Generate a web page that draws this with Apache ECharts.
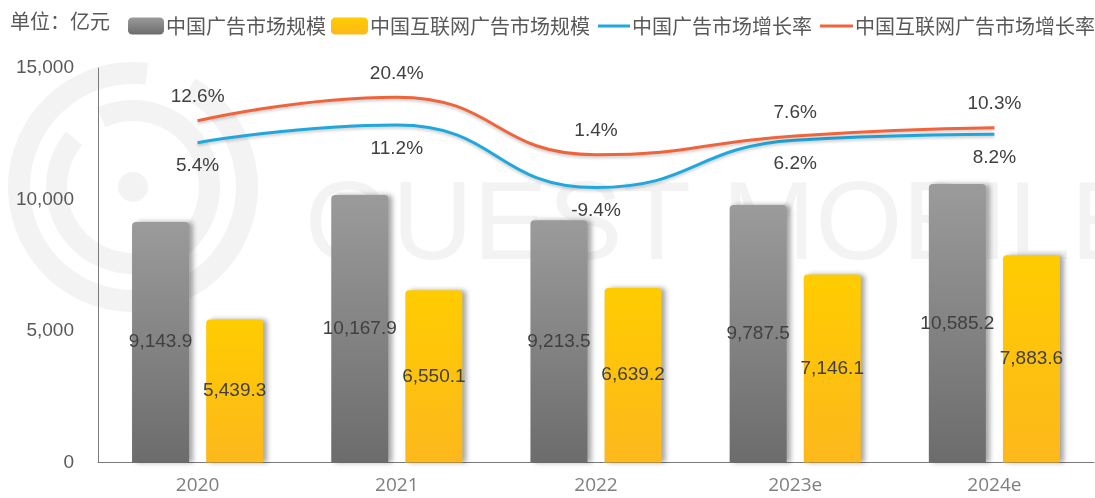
<!DOCTYPE html>
<html>
<head>
<meta charset="utf-8">
<script src="https://cdn.jsdelivr.net/npm/echarts@6/dist/echarts.min.js"></script>
<style>
html,body{margin:0;padding:0;background:#fff;}
#c{width:1095px;height:498px;}
</style>
</head>
<body>
<div id="c"></div>
<script>
const categories = ['2020', '2021', '2022', '2023e', '2024e'];
const adMarket = [9143.9, 10167.9, 9213.5, 9787.5, 10585.2];
const netAdMarket = [5439.3, 6550.1, 6639.2, 7146.1, 7883.6];
const adGrowth = [5.4, 11.2, -9.4, 6.2, 8.2];
const netAdGrowth = [12.6, 20.4, 1.4, 7.6, 10.3];
const yTicks = [0, 5000, 10000, 15000];
const seriesNames = ['中国广告市场规模', '中国互联网广告市场规模', '中国广告市场增长率', '中国互联网广告市场增长率'];
const unitText = '单位：亿元';

const CJK = '"Noto Sans CJK SC", sans-serif';
const NUM = '"Liberation Sans", Arial, sans-serif';

const grayGrad = new echarts.graphic.LinearGradient(0, 0, 0, 1, [
  {offset: 0, color: '#9b9b9b'}, {offset: 1, color: '#6c6c6c'}
]);
const yellowGrad = new echarts.graphic.LinearGradient(0, 0, 0, 1, [
  {offset: 0, color: '#ffcc00'}, {offset: 1, color: '#fdb81c'}
]);
const BLUE = '#1fa7de';
const ORANGE = '#f0643c';
const WM = '#f3f3f3';

const fmtNum = v => Number(v).toLocaleString('en-US', {minimumFractionDigits: 1, maximumFractionDigits: 1});

function legendFor(name, left, w, h, icon) {
  return {
    data: [name], left: left, top: 11, icon: icon, itemWidth: w, itemHeight: h,
    itemStyle: {borderWidth: 0},
    textStyle: {fontFamily: CJK, fontSize: 20, color: '#595959', padding: [0, 0, 0, -3]},
    selectedMode: false
  };
}

const chart = echarts.init(document.getElementById('c'), null, {renderer: 'canvas'});
chart.setOption({
  animation: false,
  backgroundColor: '#fff',
  graphic: [
    {type: 'sector', z: -10, silent: true, shape: {cx: 133, cy: 187, r0: 103, r: 125, startAngle: -1.05, endAngle: -1.45 + Math.PI * 2}, style: {fill: WM}},
    {type: 'sector', z: -10, silent: true, shape: {cx: 133, cy: 187, r0: 66, r: 87, startAngle: -2.0, endAngle: -2.45 + Math.PI * 2}, style: {fill: WM}},
    {type: 'circle', z: -10, silent: true, shape: {cx: 133, cy: 187, r: 15}, style: {fill: WM}},
    {type: 'text', z: -10, silent: true, left: 305, top: 172, style: {text: 'QUEST MOBILE', font: '112px "Liberation Sans", Arial, sans-serif', fill: WM}},
    {type: 'text', left: 10, top: 11, style: {text: unitText, font: '20px ' + CJK, fill: '#595959'}}
  ],
  legend: [
    legendFor(seriesNames[0], 123, 36, 17, 'roundRect'),
    legendFor(seriesNames[1], 326, 37, 17, 'roundRect'),
    legendFor(seriesNames[2], 593, 32, 3, 'rect'),
    legendFor(seriesNames[3], 815, 33, 3, 'rect')
  ],
  grid: {left: 98, right: 1, top: 68, bottom: 35.5, containLabel: false},
  xAxis: {
    type: 'category', data: categories,
    axisLine: {show: true, lineStyle: {color: '#7a7a7a', width: 1}},
    axisTick: {show: false},
    axisLabel: {color: '#7f7f7f', fontSize: 19, fontFamily: '"Open Sans", sans-serif', margin: 14}
  },
  yAxis: [
    {
      type: 'value', min: yTicks[0], max: yTicks[yTicks.length - 1], interval: yTicks[1] - yTicks[0],
      axisLine: {show: true, lineStyle: {color: '#7a7a7a', width: 1}},
      axisTick: {show: false}, splitLine: {show: false},
      axisLabel: {color: '#595959', fontSize: 19, fontFamily: NUM, margin: 24, formatter: v => Number(v).toLocaleString('en-US')}
    },
    {
      type: 'value', min: -100, max: 30, show: false, splitLine: {show: false}
    }
  ],
  series: [
    {
      name: seriesNames[0], type: 'bar', data: adMarket, barWidth: 57, barGap: '30%',
      itemStyle: {color: grayGrad, borderRadius: [4, 4, 0, 0], shadowColor: 'rgba(0,0,0,0.35)', shadowBlur: 5, shadowOffsetX: 4},
      label: {show: true, position: 'inside', color: '#404040', fontSize: 19, fontFamily: NUM, formatter: p => fmtNum(p.value)}
    },
    {
      name: seriesNames[1], type: 'bar', data: netAdMarket, barWidth: 57,
      itemStyle: {color: yellowGrad, borderRadius: [4, 4, 0, 0], shadowColor: 'rgba(0,0,0,0.35)', shadowBlur: 5, shadowOffsetX: 4},
      label: {show: true, position: 'inside', color: '#404040', fontSize: 19, fontFamily: NUM, formatter: p => fmtNum(p.value)}
    },
    {
      name: seriesNames[2], type: 'line', yAxisIndex: 1, data: adGrowth, smooth: 0.5,
      symbol: 'circle', symbolSize: 0.1, showSymbol: true, z: 5,
      lineStyle: {color: BLUE, width: 3, shadowColor: 'rgba(0,0,0,0.2)', shadowBlur: 3, shadowOffsetY: 2},
      itemStyle: {color: BLUE},
      label: {show: true, position: 'bottom', distance: 14, color: '#404040', fontSize: 19, fontFamily: NUM, formatter: p => p.value.toFixed(1) + '%'}
    },
    {
      name: seriesNames[3], type: 'line', yAxisIndex: 1, data: netAdGrowth, smooth: 0.5,
      symbol: 'circle', symbolSize: 0.1, showSymbol: true, z: 6,
      lineStyle: {color: ORANGE, width: 3, shadowColor: 'rgba(0,0,0,0.2)', shadowBlur: 3, shadowOffsetY: 2},
      itemStyle: {color: ORANGE},
      label: {show: true, position: 'top', distance: 14, color: '#404040', fontSize: 19, fontFamily: NUM, formatter: p => p.value.toFixed(1) + '%'}
    }
  ]
});
</script>
</body>
</html>
